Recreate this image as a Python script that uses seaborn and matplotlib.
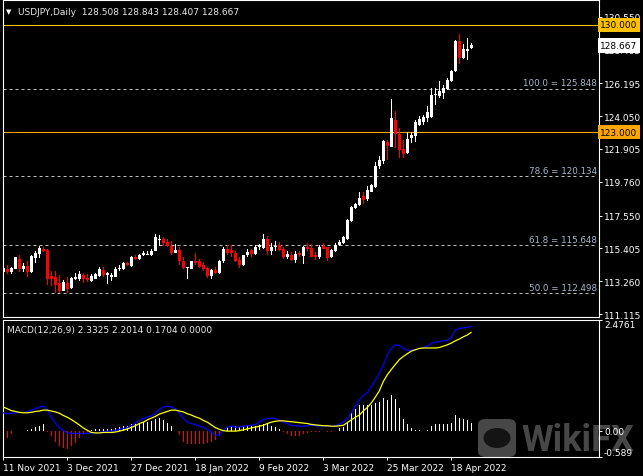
import numpy as np
import pandas as pd
import matplotlib
matplotlib.use("Agg")
import matplotlib.pyplot as plt
import seaborn as sns
from matplotlib.patches import FancyBboxPatch, Circle

# daily USDJPY candles (11 Nov 2021 onwards)
opens = [113.86, 114.08, 113.86, 114.08, 114.73, 114.03, 114.25, 113.86, 114.78, 115.04,
         115.39, 115.30, 113.60, 113.51, 113.12, 112.64, 113.16, 112.81, 113.42, 113.38,
         113.64, 113.47, 113.29, 113.42, 113.60, 113.99, 113.64, 113.55, 113.55, 114.03,
         114.08, 114.43, 114.25, 114.86, 114.69, 114.95, 114.99, 114.95, 115.21, 115.95,
         116.04, 115.82, 115.56, 115.08, 115.30, 114.60, 114.12, 114.03, 114.60, 114.56,
         114.30, 114.10, 113.60, 113.97, 113.77, 114.56, 115.34, 115.30, 115.08, 114.64,
         114.30, 114.95, 115.30, 115.04, 115.47, 115.43, 116.00, 115.26, 115.52, 115.65,
         115.39, 114.86, 114.99, 114.64, 115.08, 114.91, 115.47, 115.43, 114.99, 114.82,
         115.56, 115.47, 114.82, 115.21, 115.65, 115.74, 116.00, 117.22, 118.05, 118.22,
         118.85, 118.63, 119.11, 119.41, 120.77, 121.11, 122.38, 122.03, 123.78, 122.86,
         121.90, 121.64, 122.60, 122.73, 123.47, 123.69, 123.91, 123.99, 125.43, 125.35,
         125.56, 125.83, 126.31, 126.96, 128.92, 127.83, 128.31, 128.508]
highs = [114.21, 114.30, 114.21, 114.86, 114.95, 114.47, 114.56, 114.95, 115.21, 115.56,
         115.47, 115.34, 113.95, 113.90, 113.64, 113.34, 113.55, 113.55, 113.77, 113.95,
         113.82, 113.73, 113.73, 113.82, 114.21, 114.21, 113.86, 113.77, 114.21, 114.34,
         114.51, 114.51, 114.91, 114.95, 115.04, 115.21, 115.21, 115.34, 116.35, 116.26,
         116.13, 116.04, 115.87, 115.69, 115.52, 114.82, 114.21, 114.60, 115.08, 114.73,
         114.51, 114.20, 114.03, 114.16, 114.64, 115.47, 115.60, 115.65, 115.21, 114.82,
         114.99, 115.39, 115.39, 115.60, 115.69, 116.35, 116.22, 115.74, 115.87, 115.82,
         115.47, 115.21, 115.17, 115.21, 115.21, 115.56, 115.74, 115.69, 115.17, 115.60,
         115.78, 115.52, 115.39, 115.78, 115.95, 116.22, 117.30, 118.20, 118.35, 119.10,
         119.06, 119.46, 119.59, 121.07, 121.46, 122.47, 122.47, 125.17, 124.39, 123.25,
         122.47, 122.99, 122.99, 123.78, 124.08, 124.12, 124.69, 125.87, 125.87, 126.31,
         126.09, 126.52, 127.05, 129.01, 129.40, 128.75, 129.14, 128.843]
lows = [113.73, 113.73, 113.73, 114.04, 113.86, 113.86, 113.55, 113.82, 114.47, 114.78,
        115.17, 112.99, 112.94, 112.51, 112.51, 112.59, 112.51, 112.77, 113.34, 113.25,
        113.16, 113.20, 113.20, 113.38, 113.55, 113.55, 113.07, 113.25, 113.51, 113.90,
        113.99, 114.25, 114.21, 114.64, 114.64, 114.91, 114.95, 114.91, 115.21, 115.56,
        115.56, 115.47, 114.95, 115.08, 114.30, 114.03, 113.38, 114.03, 114.34, 114.12,
        113.90, 113.50, 113.38, 113.70, 113.75, 114.43, 114.99, 114.86, 114.51, 114.12,
        114.25, 114.82, 114.82, 114.99, 115.30, 115.39, 114.95, 114.95, 115.21, 115.21,
        114.73, 114.69, 114.60, 114.43, 114.86, 114.38, 115.21, 114.82, 114.64, 114.73,
        115.34, 114.56, 114.78, 115.17, 115.56, 115.69, 115.95, 117.15, 117.95, 118.18,
        118.32, 118.50, 119.06, 119.37, 120.59, 120.90, 121.16, 122.03, 121.94, 121.29,
        121.29, 121.59, 122.29, 122.38, 123.43, 123.47, 123.64, 123.95, 124.78, 125.26,
        125.13, 125.78, 126.26, 126.92, 127.48, 127.79, 127.70, 128.407]
closes = [114.12, 113.86, 114.12, 114.82, 114.08, 114.25, 113.86, 114.91, 115.12, 115.43,
          115.26, 113.38, 113.42, 113.03, 112.64, 113.20, 112.77, 113.47, 113.55, 113.73,
          113.38, 113.34, 113.60, 113.73, 114.03, 113.64, 113.77, 113.68, 114.03, 114.12,
          114.43, 114.34, 114.86, 114.73, 114.95, 115.08, 115.04, 115.26, 116.13, 116.04,
          115.74, 115.56, 115.08, 115.30, 114.60, 114.12, 114.21, 114.56, 114.43, 114.21,
          114.03, 113.57, 113.97, 113.77, 114.60, 115.34, 115.12, 115.08, 114.60, 114.34,
          114.95, 115.17, 115.04, 115.52, 115.60, 116.00, 115.26, 115.52, 115.56, 115.30,
          114.82, 115.04, 114.64, 115.04, 114.99, 115.52, 115.34, 114.86, 114.86, 115.52,
          115.39, 114.78, 115.30, 115.65, 115.82, 116.13, 117.25, 118.08, 118.27, 118.70,
          118.58, 119.19, 119.54, 120.81, 121.16, 122.42, 122.07, 123.91, 122.86, 121.81,
          121.59, 122.55, 122.82, 123.69, 123.86, 123.99, 124.34, 125.43, 125.52, 125.70,
          125.91, 126.39, 127.00, 128.97, 127.83, 128.40, 128.40, 128.667]

# MACD(12,26,9) panel
macd_main = [0.40, 0.38, 0.39, 0.40, 0.41, 0.41, 0.42, 0.46, 0.49, 0.53,
             0.55, 0.46, 0.31, 0.17, 0.07, 0.00, -0.05, -0.06, -0.06, -0.06,
             -0.07, -0.06, -0.05, -0.04, -0.04, -0.03, -0.01, -0.01, 0.01, 0.03,
             0.05, 0.07, 0.11, 0.17, 0.23, 0.27, 0.31, 0.33, 0.39, 0.47,
             0.53, 0.55, 0.53, 0.49, 0.40, 0.28, 0.19, 0.16, 0.13, 0.10,
             0.08, 0.03, -0.03, -0.10, -0.10, 0.01, 0.08, 0.10, 0.08, 0.08,
             0.10, 0.11, 0.12, 0.14, 0.19, 0.25, 0.27, 0.28, 0.27, 0.23,
             0.19, 0.16, 0.12, 0.11, 0.10, 0.10, 0.11, 0.12, 0.11, 0.10,
             0.11, 0.10, 0.10, 0.11, 0.15, 0.19, 0.27, 0.40, 0.55, 0.68,
             0.79, 0.85, 0.98, 1.13, 1.28, 1.46, 1.69, 1.84, 1.92, 1.91,
             1.84, 1.80, 1.80, 1.81, 1.84, 1.86, 1.89, 1.95, 1.98, 1.99,
             2.01, 2.02, 2.08, 2.25, 2.29, 2.30, 2.31, 2.3325]
macd_signal = [0.53, 0.49, 0.45, 0.43, 0.41, 0.40, 0.40, 0.41, 0.43, 0.44,
               0.46, 0.46, 0.44, 0.42, 0.39, 0.34, 0.30, 0.25, 0.19, 0.13,
               0.06, 0.01, -0.04, -0.05, -0.05, -0.04, -0.04, -0.04, -0.03, -0.01,
               0.01, 0.04, 0.07, 0.11, 0.16, 0.19, 0.24, 0.28, 0.32, 0.37,
               0.40, 0.43, 0.46, 0.46, 0.44, 0.42, 0.38, 0.35, 0.31, 0.28,
               0.23, 0.19, 0.13, 0.07, 0.03, 0.00, -0.01, -0.01, -0.01, 0.00,
               0.02, 0.04, 0.06, 0.08, 0.10, 0.12, 0.16, 0.19, 0.21, 0.22,
               0.22, 0.21, 0.20, 0.19, 0.18, 0.17, 0.16, 0.14, 0.13, 0.12,
               0.11, 0.11, 0.10, 0.10, 0.11, 0.12, 0.18, 0.24, 0.30, 0.35,
               0.44, 0.52, 0.62, 0.75, 0.89, 1.10, 1.25, 1.37, 1.48, 1.59,
               1.66, 1.72, 1.78, 1.81, 1.84, 1.85, 1.85, 1.85, 1.85, 1.86,
               1.89, 1.92, 1.96, 2.01, 2.05, 2.10, 2.14, 2.2014]
macd_hist = [-0.20, -0.16, -0.08, 0.0, 0.0, 0.0, 0.02, 0.04, 0.08, 0.11,
             0.14, -0.03, -0.13, -0.25, -0.35, -0.38, -0.41, -0.34, -0.28, -0.17,
             -0.08, -0.03, 0.02, 0.03, 0.04, 0.04, 0.04, 0.04, 0.05, 0.08,
             0.10, 0.11, 0.14, 0.16, 0.17, 0.19, 0.20, 0.22, 0.25, 0.28,
             0.23, 0.17, 0.10, 0.0, -0.10, -0.25, -0.29, -0.29, -0.29, -0.29,
             -0.29, -0.28, -0.25, -0.20, -0.13, 0.0, 0.08, 0.11, 0.10, 0.08,
             0.08, 0.10, 0.11, 0.11, 0.13, 0.16, 0.14, 0.11, 0.08, 0.04,
             -0.02, -0.07, -0.11, -0.13, -0.11, -0.08, -0.05, -0.04, -0.04, -0.02,
             0.0, -0.02, -0.02, 0.0, 0.05, 0.08, 0.17, 0.39, 0.48, 0.57,
             0.57, 0.57, 0.58, 0.61, 0.64, 0.73, 0.69, 0.79, 0.70, 0.51,
             0.26, 0.16, 0.05, 0.02, 0.02, 0.0, 0.02, 0.11, 0.14, 0.14,
             0.14, 0.14, 0.17, 0.34, 0.29, 0.26, 0.23, 0.17]

price_ticks = [130.550, 128.405, 126.195, 124.050, 121.905, 119.760, 117.550, 115.405, 113.260, 111.115]
fib_levels = [125.848, 120.134, 115.648, 112.498]
fib_names = ["100.0", "78.6", "61.8", "50.0"]
level_lines = [130.000, 123.000]
level_colors = ["#FFC000", "#FFA500"]
macd_ticks = [-0.589, 0.0, 2.4761]
macd_tick_labels = ["-0.589", "0.00", "2.4761"]

n = len(closes)
dates = pd.bdate_range("2021-11-11", periods=n)
date_idx = list(range(0, n, 16))
date_labels = [f"{dates[i].day} {dates[i]:%b %Y}" for i in date_idx]

sns.set_theme(style="ticks", rc={"axes.facecolor": "none", "figure.facecolor": "black",
                                 "axes.grid": False})
plt.rcParams["font.family"] = ["DejaVu Sans"]

W, H = 643, 477
fig = plt.figure(figsize=(W / 100, H / 100), dpi=100)


def box(x0, y0, x1, y1):
    return [x0 / W, 1 - y1 / H, (x1 - x0) / W, (y1 - y0) / H]


ax = fig.add_axes(box(2.5, 1, 598.5, 318))
ax2 = fig.add_axes(box(2.5, 321, 598.5, 458))

x = np.arange(n)
o = np.array(opens)
c = np.array(closes)
hi = np.array(highs)
lo = np.array(lows)
up = c >= o
cols = np.where(up, "white", "#FF0000")

# candles: 1px wick + 3px body, drawn crisp
ax.bar(x, hi - lo, bottom=lo, width=0.3, color=cols, linewidth=0, antialiased=False, zorder=3)
body = np.maximum(np.abs(c - o), 0.06)
ax.bar(x, body, bottom=np.minimum(o, c), width=0.72, color=cols, linewidth=0,
       antialiased=False, zorder=4)

# fibo levels
for lev, name in zip(fib_levels, fib_names):
    ax.hlines(lev, -0.2, 148.4, colors="#BEBEBE", linestyles=(0, (3, 3)), lw=0.72, zorder=2)
    ax.text(148.4, lev + 0.07, f"{name} = {lev:.3f}", ha="right", va="bottom",
            color="#A6B8CC", fontsize=6.3, zorder=2)

for lev, col in zip(level_lines, level_colors):
    ax.axhline(lev, color=col, lw=0.8, zorder=2)

ax.set_xlim(-0.2, 148.8)
ax.set_ylim(110.92, 131.63)
ax.set_xticks([])
ax.yaxis.tick_right()
ax.set_yticks(price_ticks)
ax.set_yticklabels([f"{v:.3f}" for v in price_ticks])
ax.tick_params(axis="y", colors="white", labelsize=6.5, length=2.5, width=0.7, pad=1.5)

ytr = ax.get_yaxis_transform()
ax.text(1.003, 130.0, "130.000", transform=ytr, fontsize=6.5, color="black", va="center",
        ha="left", bbox=dict(boxstyle="square,pad=0.3", fc="#FFC000", ec="none"), clip_on=False, zorder=6)
ax.text(1.003, 123.0, "123.000", transform=ytr, fontsize=6.5, color="black", va="center",
        ha="left", bbox=dict(boxstyle="square,pad=0.3", fc="#FFA500", ec="none"), clip_on=False, zorder=6)
ax.text(1.003, closes[-1], f"{closes[-1]:.3f}", transform=ytr, fontsize=6.5, color="black",
        va="center", ha="left", bbox=dict(boxstyle="square,pad=0.3", fc="white", ec="none"),
        clip_on=False, zorder=6)

fig.text(6 / W, 1 - 12.5 / H, "\u25bc", fontsize=5, color="white", va="center")
fig.text(18.5 / W, 1 - 12.5 / H,
         f"USDJPY,Daily  {opens[-1]:.3f} {highs[-1]:.3f} {lows[-1]:.3f} {closes[-1]:.3f}",
         fontsize=6.5, color="#E8E8E8", va="center")

# MACD panel
hist = np.array(macd_hist)
hcols = np.where(hist >= 0, "white", "#FF0000")
ax2.bar(x, hist, width=0.3, color=hcols, linewidth=0, antialiased=False, zorder=2)
df = pd.DataFrame({"bar": x, "main": macd_main, "signal": macd_signal})
sns.lineplot(data=df, x="bar", y="main", ax=ax2, color="#0000FF", lw=0.9, zorder=3)
sns.lineplot(data=df, x="bar", y="signal", ax=ax2, color="#FFFF00", lw=0.9, zorder=3)
ax2.set_xlim(-0.2, 148.8)
ax2.set_ylim(-0.589, 2.4761)
ax2.set_xlabel("")
ax2.set_ylabel("")
ax2.yaxis.tick_right()
ax2.set_yticks(macd_ticks)
ax2.set_yticklabels(macd_tick_labels)
ax2.tick_params(axis="y", colors="white", labelsize=6.5, length=2.5, width=0.7, pad=1.5)
lbls = ax2.get_yticklabels()
lbls[0].set_va("bottom")
lbls[-1].set_va("top")
ax2.set_xticks(date_idx)
ax2.set_xticklabels(date_labels)
for t in ax2.get_xticklabels():
    t.set_ha("left")
ax2.tick_params(axis="x", colors="white", labelsize=6.5, length=2.2, width=0.7, pad=2)
ax2.text(0.008, 0.96, "MACD(12,26,9) 2.3325 2.2014 0.1704 0.0000", transform=ax2.transAxes,
         fontsize=6.5, color="#E8E8E8", va="top", ha="left")

for a in (ax, ax2):
    for s in a.spines.values():
        s.set_color("white")
        s.set_linewidth(0.8)

# watermark
fig.patches.append(FancyBboxPatch((478 / W, 1 - 458 / H), 38 / W, 38 / H,
                                  boxstyle="round,pad=0,rounding_size=0.012",
                                  transform=fig.transFigure, fc="#474747", ec="none", zorder=-1))
fig.patches.append(Circle((497 / W, 1 - 439 / H), 0.021, transform=fig.transFigure,
                          fc="#141414", ec="none", zorder=-1))
fig.text(521 / W, 1 - 441 / H, "WikiFX", fontsize=26, fontweight="bold", family="Roboto",
         color="#474747", va="center", ha="left", zorder=-1)

fig.savefig("out.png", dpi=100, facecolor="black")
